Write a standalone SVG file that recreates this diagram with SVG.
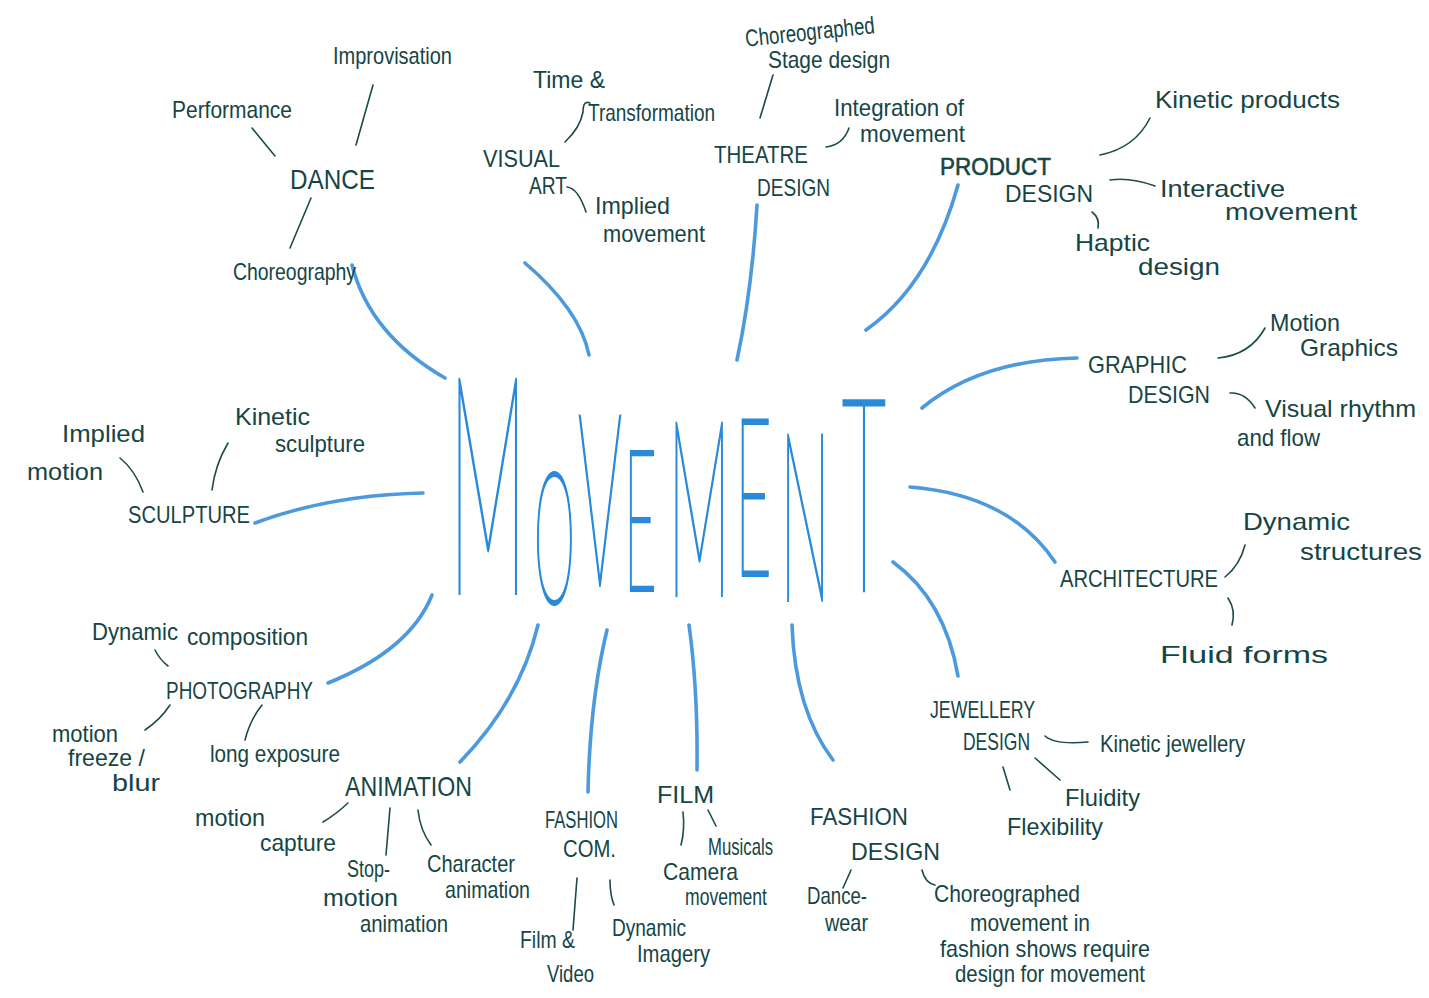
<svg xmlns="http://www.w3.org/2000/svg" width="1429" height="998" viewBox="0 0 1429 998">
<style>
text{font-family:"Liberation Sans Narrow","Liberation Sans",sans-serif;fill:#154545;font-size:24px}
.c{font-size:28px}
.big{font-family:Lato,"Open Sans","Liberation Sans",sans-serif;font-weight:100;fill:#1f83d6;stroke:#2a8ad9;stroke-width:1.2}
.b{fill:none;stroke:#3d90da;stroke-width:3.6;stroke-linecap:round;opacity:.92}
.k{fill:none;stroke:#1d4a4a;stroke-width:1.6;stroke-linecap:round}
</style>
<rect width="1429" height="998" fill="#ffffff"/>
<g id="connectors">
<path class="b" d="M352,265 Q370,335 445,378"/>
<path class="b" d="M525,263 Q580,310 589,355"/>
<path class="b" d="M757,205 Q752,290 737,360"/>
<path class="b" d="M958,185 Q930,285 866,330"/>
<path class="b" d="M922,408 Q980,360 1077,358"/>
<path class="b" d="M910,487 Q1010,495 1055,562"/>
<path class="b" d="M893,562 Q945,600 958,676"/>
<path class="b" d="M792,625 Q795,710 833,760"/>
<path class="b" d="M689,625 Q698,690 697,770"/>
<path class="b" d="M607,630 Q590,700 588,792"/>
<path class="b" d="M538,625 Q520,700 460,762"/>
<path class="b" d="M432,595 Q410,650 328,683"/>
<path class="b" d="M255,523 Q330,495 423,493"/>
<path class="k" d="M373,85 L356,145"/>
<path class="k" d="M252,128 L275,156"/>
<path class="k" d="M311,198 L290,248"/>
<path class="k" d="M590,103 Q583,100 583,112 Q580,128 565,142"/>
<path class="k" d="M567,187 Q578,188 586,212"/>
<path class="k" d="M773,75 L760,118"/>
<path class="k" d="M826,147 Q843,145 849,128"/>
<path class="k" d="M1100,155 Q1135,148 1150,118"/>
<path class="k" d="M1110,180 Q1130,177 1155,186"/>
<path class="k" d="M1092,212 Q1100,218 1098,228"/>
<path class="k" d="M1218,358 Q1250,355 1265,328"/>
<path class="k" d="M1230,393 Q1245,392 1255,408"/>
<path class="k" d="M120,458 Q135,470 143,492"/>
<path class="k" d="M228,443 Q215,465 212,490"/>
<path class="k" d="M1225,577 Q1240,565 1245,545"/>
<path class="k" d="M1228,598 Q1236,610 1232,625"/>
<path class="k" d="M1045,736 Q1055,745 1088,742"/>
<path class="k" d="M1003,767 L1010,790"/>
<path class="k" d="M1035,758 L1060,780"/>
<path class="k" d="M851,870 L843,888"/>
<path class="k" d="M922,870 Q925,883 935,885"/>
<path class="k" d="M683,812 Q685,830 681,845"/>
<path class="k" d="M708,810 L716,826"/>
<path class="k" d="M577,878 L573,930"/>
<path class="k" d="M610,880 Q610,895 614,905"/>
<path class="k" d="M348,803 Q335,815 323,822"/>
<path class="k" d="M390,808 L386,855"/>
<path class="k" d="M418,810 Q420,830 431,845"/>
<path class="k" d="M155,650 Q160,660 168,666"/>
<path class="k" d="M170,705 Q160,720 145,730"/>
<path class="k" d="M262,705 Q250,720 245,740"/>
</g>
<g id="movement">
<text class="big" transform="scale(1,3.5)"><tspan x="449" y="169.4" font-size="87">M</tspan><tspan x="534" y="172.3" font-size="52">O</tspan><tspan x="578" y="167.1" font-size="69">V</tspan><tspan x="624" y="168.6" font-size="56">E</tspan><tspan x="668" y="170" font-size="70">M</tspan><tspan x="735" y="164.3" font-size="63">E</tspan><tspan x="780" y="171.4" font-size="67">N</tspan><tspan x="842" y="168.6" font-size="77">T</tspan></text>
</g>
<g id="dance"><text class="c" x="290" y="189" textLength="85" lengthAdjust="spacingAndGlyphs">DANCE</text></g>
<g id="improvisation"><text x="333" y="64" font-size="26" textLength="119" lengthAdjust="spacingAndGlyphs">Improvisation</text></g>
<g id="performance"><text x="172" y="118" font-size="26" textLength="120" lengthAdjust="spacingAndGlyphs">Performance</text></g>
<g id="choreography"><text x="233" y="280" font-size="26" textLength="123" lengthAdjust="spacingAndGlyphs">Choreography</text></g>
<g id="visual-art"><text x="483" y="167" font-size="26" textLength="77" lengthAdjust="spacingAndGlyphs">VISUAL</text><text x="529" y="194" font-size="26" textLength="38" lengthAdjust="spacingAndGlyphs">ART</text></g>
<g id="time-transformation"><text x="533" y="88" font-size="25" textLength="72" lengthAdjust="spacingAndGlyphs">Time &amp;</text><text x="588" y="121" font-size="22" textLength="127" lengthAdjust="spacingAndGlyphs">Transformation</text></g>
<g id="implied-movement"><text x="595" y="214" font-size="25" textLength="75" lengthAdjust="spacingAndGlyphs">Implied</text><text x="603" y="242" font-size="23" textLength="102" lengthAdjust="spacingAndGlyphs">movement</text></g>
<g id="theatre-design"><text x="714" y="163" font-size="26" textLength="94" lengthAdjust="spacingAndGlyphs">THEATRE</text><text x="757" y="196" font-size="26" textLength="73" lengthAdjust="spacingAndGlyphs">DESIGN</text></g>
<g id="choreographed-stage"><text x="745" y="40" font-size="22" textLength="130" lengthAdjust="spacingAndGlyphs" transform="rotate(-6 810 33)">Choreographed</text><text x="768" y="68" font-size="23" textLength="122" lengthAdjust="spacingAndGlyphs">Stage design</text></g>
<g id="integration"><text x="834" y="116" font-size="23" textLength="130" lengthAdjust="spacingAndGlyphs">Integration of</text><text x="860" y="142" font-size="22" textLength="105" lengthAdjust="spacingAndGlyphs">movement</text></g>
<g id="product-design"><text x="940" y="175" font-size="30" textLength="111" lengthAdjust="spacingAndGlyphs" style="stroke:#154545;stroke-width:.6">PRODUCT</text><text x="1005" y="202" font-size="30" textLength="88" lengthAdjust="spacingAndGlyphs">DESIGN</text></g>
<g id="kinetic-products"><text x="1155" y="108" font-size="26" textLength="185" lengthAdjust="spacingAndGlyphs">Kinetic products</text></g>
<g id="interactive-movement"><text x="1160" y="197" font-size="24" textLength="125" lengthAdjust="spacingAndGlyphs">Interactive</text><text x="1225" y="220" font-size="22" textLength="132" lengthAdjust="spacingAndGlyphs">movement</text></g>
<g id="haptic-design"><text x="1075" y="251" font-size="22" textLength="75" lengthAdjust="spacingAndGlyphs">Haptic</text><text x="1138" y="275" font-size="24" textLength="82" lengthAdjust="spacingAndGlyphs">design</text></g>
<g id="graphic-design"><text x="1088" y="373" font-size="26" textLength="99" lengthAdjust="spacingAndGlyphs">GRAPHIC</text><text x="1128" y="403" font-size="26" textLength="82" lengthAdjust="spacingAndGlyphs">DESIGN</text></g>
<g id="motion-graphics"><text x="1270" y="331" font-size="22" textLength="70" lengthAdjust="spacingAndGlyphs">Motion</text><text x="1300" y="356" textLength="98" lengthAdjust="spacingAndGlyphs">Graphics</text></g>
<g id="visual-rhythm"><text x="1265" y="417" textLength="151" lengthAdjust="spacingAndGlyphs">Visual rhythm</text><text x="1237" y="446" textLength="83" lengthAdjust="spacingAndGlyphs">and flow</text></g>
<g id="sculpture"><text x="128" y="523" font-size="26" textLength="122" lengthAdjust="spacingAndGlyphs">SCULPTURE</text></g>
<g id="implied-motion"><text x="62" y="442" font-size="26" textLength="83" lengthAdjust="spacingAndGlyphs">Implied</text><text x="27" y="480" textLength="76" lengthAdjust="spacingAndGlyphs">motion</text></g>
<g id="kinetic-sculpture"><text x="235" y="425" font-size="22" textLength="75" lengthAdjust="spacingAndGlyphs">Kinetic</text><text x="275" y="452" font-size="22" textLength="90" lengthAdjust="spacingAndGlyphs">sculpture</text></g>
<g id="architecture"><text x="1060" y="587" font-size="26" textLength="158" lengthAdjust="spacingAndGlyphs">ARCHITECTURE</text></g>
<g id="dynamic-structures"><text x="1243" y="530" font-size="25" textLength="107" lengthAdjust="spacingAndGlyphs">Dynamic</text><text x="1300" y="560" font-size="25" textLength="122" lengthAdjust="spacingAndGlyphs">structures</text></g>
<g id="fluid-forms"><text x="1160" y="663" font-size="34" textLength="168" lengthAdjust="spacingAndGlyphs">Fluid forms</text></g>
<g id="jewellery-design"><text x="930" y="718" textLength="105" lengthAdjust="spacingAndGlyphs">JEWELLERY</text><text x="963" y="750" textLength="67" lengthAdjust="spacingAndGlyphs">DESIGN</text></g>
<g id="kinetic-jewellery"><text x="1100" y="752" font-size="22" textLength="145" lengthAdjust="spacingAndGlyphs">Kinetic jewellery</text></g>
<g id="fluidity"><text x="1065" y="806" font-size="22" textLength="75" lengthAdjust="spacingAndGlyphs">Fluidity</text></g>
<g id="flexibility"><text x="1007" y="835" font-size="22" textLength="96" lengthAdjust="spacingAndGlyphs">Flexibility</text></g>
<g id="fashion-design"><text x="810" y="825" font-size="26" textLength="98" lengthAdjust="spacingAndGlyphs">FASHION</text><text x="851" y="860" font-size="26" textLength="89" lengthAdjust="spacingAndGlyphs">DESIGN</text></g>
<g id="dance-wear"><text x="807" y="904" font-size="19" textLength="60" lengthAdjust="spacingAndGlyphs">Dance-</text><text x="825" y="931" font-size="17" textLength="43" lengthAdjust="spacingAndGlyphs">wear</text></g>
<g id="choreographed-movement"><text x="934" y="902" font-size="23" textLength="146" lengthAdjust="spacingAndGlyphs">Choreographed</text><text x="970" y="931" font-size="19" textLength="120" lengthAdjust="spacingAndGlyphs">movement in</text><text x="940" y="957" font-size="18" textLength="210" lengthAdjust="spacingAndGlyphs">fashion shows require</text><text x="955" y="982" font-size="20" textLength="190" lengthAdjust="spacingAndGlyphs">design for movement</text></g>
<g id="film"><text x="657" y="803" font-size="26" textLength="57" lengthAdjust="spacingAndGlyphs">FILM</text></g>
<g id="musicals"><text x="708" y="855" font-size="20" textLength="65" lengthAdjust="spacingAndGlyphs">Musicals</text></g>
<g id="camera-movement"><text x="663" y="880" font-size="20" textLength="75" lengthAdjust="spacingAndGlyphs">Camera</text><text x="685" y="905" font-size="20" textLength="82" lengthAdjust="spacingAndGlyphs">movement</text></g>
<g id="fashion-com"><text x="545" y="828" font-size="22" textLength="73" lengthAdjust="spacingAndGlyphs">FASHION</text><text x="563" y="857" font-size="22" textLength="53" lengthAdjust="spacingAndGlyphs">COM.</text></g>
<g id="film-video"><text x="520" y="948" font-size="22" textLength="55" lengthAdjust="spacingAndGlyphs">Film &amp;</text><text x="547" y="982" font-size="22" textLength="47" lengthAdjust="spacingAndGlyphs">Video</text></g>
<g id="dynamic-imagery"><text x="612" y="936" font-size="21" textLength="74" lengthAdjust="spacingAndGlyphs">Dynamic</text><text x="637" y="962" font-size="21" textLength="73" lengthAdjust="spacingAndGlyphs">Imagery</text></g>
<g id="animation"><text x="345" y="796" class="c" textLength="127" lengthAdjust="spacingAndGlyphs">ANIMATION</text></g>
<g id="motion-capture"><text x="195" y="826" font-size="23" textLength="70" lengthAdjust="spacingAndGlyphs">motion</text><text x="260" y="851" font-size="23" textLength="76" lengthAdjust="spacingAndGlyphs">capture</text></g>
<g id="stop-motion"><text x="347" y="877" font-size="21" textLength="43" lengthAdjust="spacingAndGlyphs">Stop-</text><text x="323" y="906" font-size="21" textLength="75" lengthAdjust="spacingAndGlyphs">motion</text><text x="360" y="932" font-size="20" textLength="88" lengthAdjust="spacingAndGlyphs">animation</text></g>
<g id="character-animation"><text x="427" y="872" font-size="22" textLength="88" lengthAdjust="spacingAndGlyphs">Character</text><text x="445" y="898" font-size="20" textLength="85" lengthAdjust="spacingAndGlyphs">animation</text></g>
<g id="photography"><text x="166" y="699" font-size="26" textLength="147" lengthAdjust="spacingAndGlyphs">PHOTOGRAPHY</text></g>
<g id="dynamic-composition"><text x="92" y="640" textLength="86" lengthAdjust="spacingAndGlyphs">Dynamic</text><text x="187" y="645" font-size="22" textLength="121" lengthAdjust="spacingAndGlyphs">composition</text></g>
<g id="motion-freeze"><text x="52" y="742" font-size="20" textLength="66" lengthAdjust="spacingAndGlyphs">motion</text><text x="68" y="766" font-size="20" textLength="77" lengthAdjust="spacingAndGlyphs">freeze /</text><text x="112" y="791" font-size="20" textLength="48" lengthAdjust="spacingAndGlyphs">blur</text></g>
<g id="long-exposure"><text x="210" y="762" font-size="22" textLength="130" lengthAdjust="spacingAndGlyphs">long exposure</text></g>
</svg>
